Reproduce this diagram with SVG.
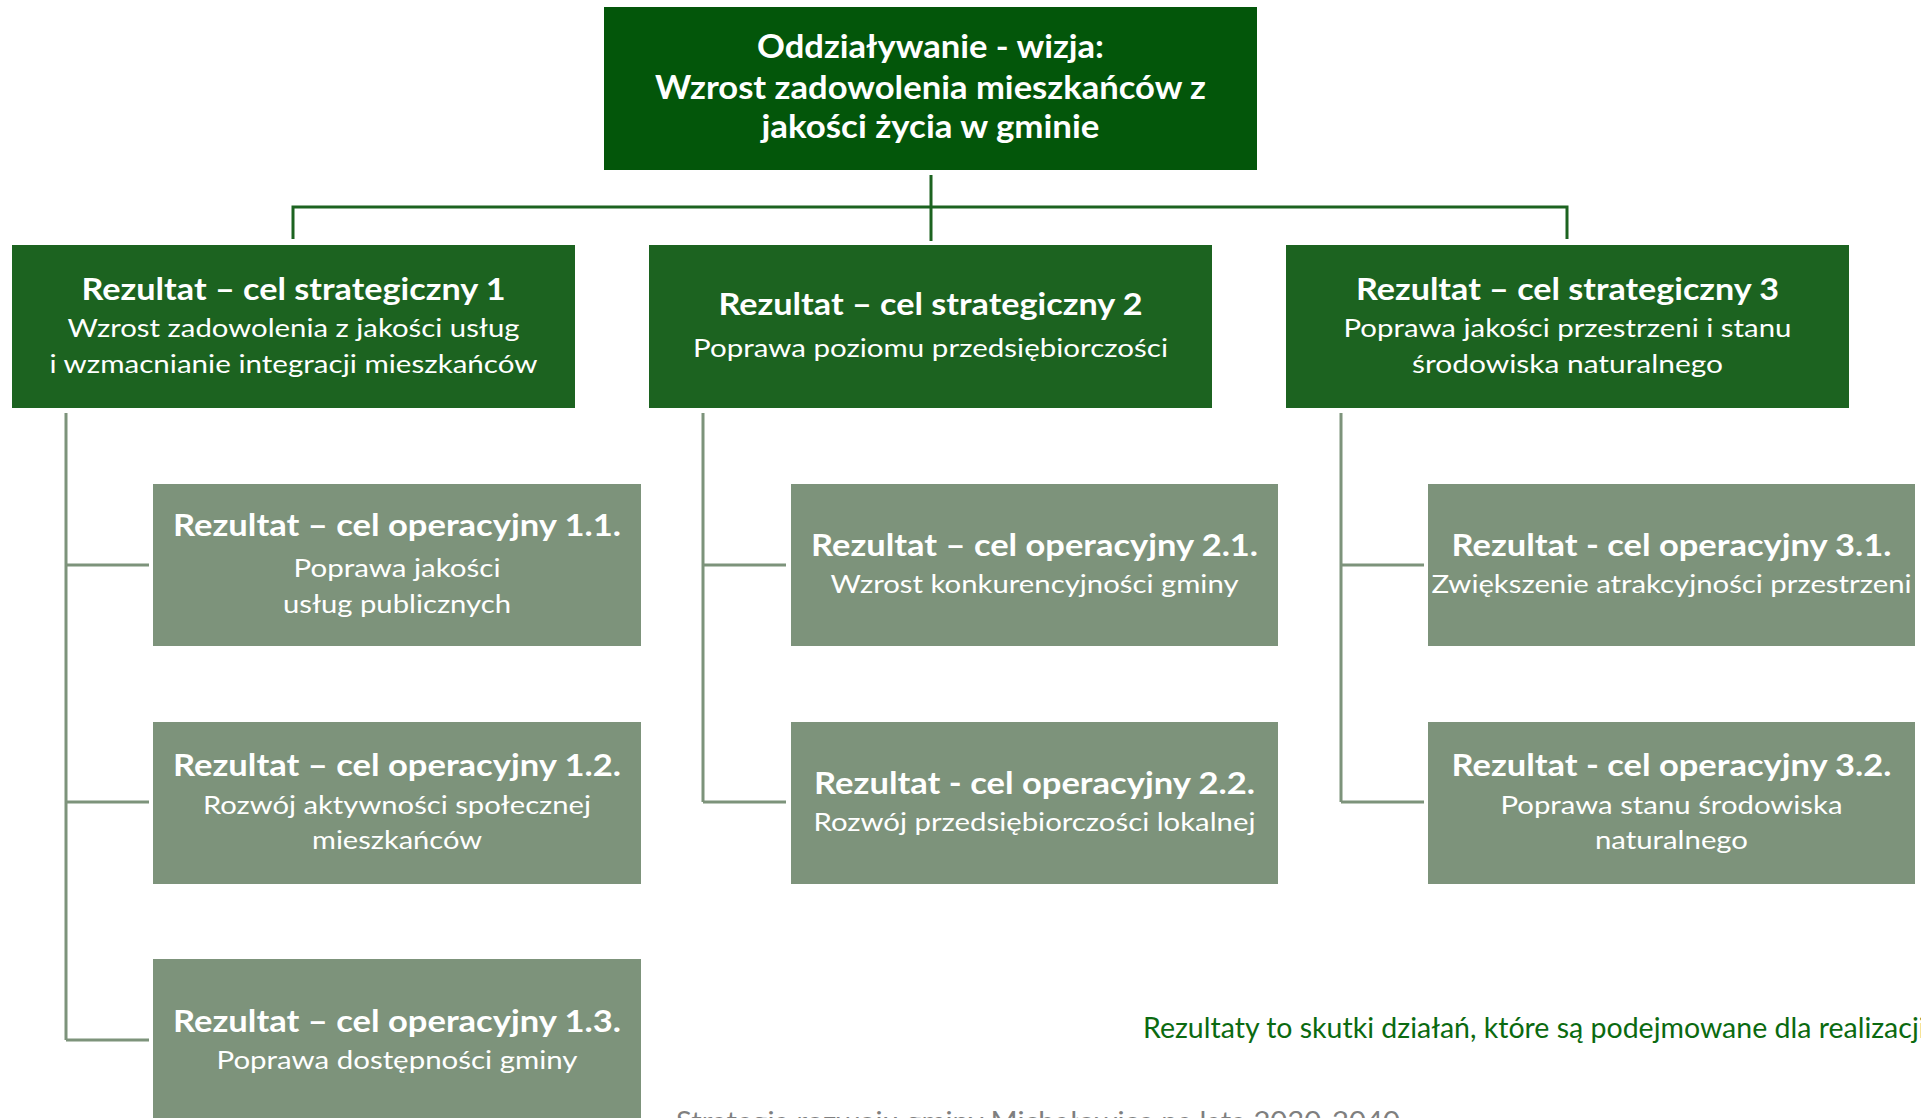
<svg xmlns="http://www.w3.org/2000/svg" width="1921" height="1118" viewBox="0 0 1921 1118">
<style>
text{font-family:Lato,"Open Sans","Liberation Sans",sans-serif;fill:#fff;text-anchor:middle}
.b{font-weight:700}
.t0{font-size:33px}
.t1{font-size:30px}
.s{font-size:25px}
.top{fill:#03560A}
.str{fill:#1C6320}
.op{fill:#7D937B}
.c1{stroke:#1C6320;stroke-width:3;fill:none}
.c2{stroke:#7D937B;stroke-width:3;fill:none}
.note{fill:#0B6A10;text-anchor:start;font-size:28.5px}
.src{fill:#7f7f7f;text-anchor:start;font-size:27px}
</style>
<g id="connectors">
<path class="c1" d="M931 175V241M293 239V207H1567V239"/>
<path class="c2" d="M66 413V1040M66 565H149M66 802H149M66 1040H149"/>
<path class="c2" d="M703 413V802M703 565H786M703 802H786"/>
<path class="c2" d="M1341 413V802M1341 565H1424M1341 802H1424"/>
</g>
<g id="vision">
<rect class="top" x="604" y="7" width="653" height="163"/>
<text class="b t0" x="930.5" y="58" textLength="347" lengthAdjust="spacingAndGlyphs">Oddziaływanie - wizja:</text>
<text class="b t0" x="930.5" y="99" textLength="551" lengthAdjust="spacingAndGlyphs">Wzrost zadowolenia mieszkańców z</text>
<text class="b t0" x="930.5" y="138" textLength="338" lengthAdjust="spacingAndGlyphs">jakości życia w gminie</text>
</g>
<g id="strat1">
<rect class="str" x="12" y="245" width="563" height="163"/>
<text class="b t1" x="293.5" y="300" textLength="424" lengthAdjust="spacingAndGlyphs">Rezultat – cel strategiczny 1</text>
<text class="s" x="293.5" y="337" textLength="452" lengthAdjust="spacingAndGlyphs">Wzrost zadowolenia z jakości usług</text>
<text class="s" x="293.5" y="373" textLength="488" lengthAdjust="spacingAndGlyphs">i wzmacnianie integracji mieszkańców</text>
</g>
<g id="strat2">
<rect class="str" x="649" y="245" width="563" height="163"/>
<text class="b t1" x="930.5" y="315" textLength="424" lengthAdjust="spacingAndGlyphs">Rezultat – cel strategiczny 2</text>
<text class="s" x="930.5" y="357" textLength="475" lengthAdjust="spacingAndGlyphs">Poprawa poziomu przedsiębiorczości</text>
</g>
<g id="strat3">
<rect class="str" x="1286" y="245" width="563" height="163"/>
<text class="b t1" x="1567.5" y="300" textLength="423" lengthAdjust="spacingAndGlyphs">Rezultat – cel strategiczny 3</text>
<text class="s" x="1567.5" y="337" textLength="448" lengthAdjust="spacingAndGlyphs">Poprawa jakości przestrzeni i stanu</text>
<text class="s" x="1567.5" y="373" textLength="311" lengthAdjust="spacingAndGlyphs">środowiska naturalnego</text>
</g>
<g id="op11">
<rect class="op" x="153" y="484" width="488" height="162"/>
<text class="b t1" x="397" y="536" textLength="448" lengthAdjust="spacingAndGlyphs">Rezultat – cel operacyjny 1.1.</text>
<text class="s" x="397" y="577" textLength="207" lengthAdjust="spacingAndGlyphs">Poprawa jakości</text>
<text class="s" x="397" y="613" textLength="228" lengthAdjust="spacingAndGlyphs">usług publicznych</text>
</g>
<g id="op12">
<rect class="op" x="153" y="722" width="488" height="162"/>
<text class="b t1" x="397" y="776" textLength="448" lengthAdjust="spacingAndGlyphs">Rezultat – cel operacyjny 1.2.</text>
<text class="s" x="397" y="814" textLength="388" lengthAdjust="spacingAndGlyphs">Rozwój aktywności społecznej</text>
<text class="s" x="397" y="849" textLength="170" lengthAdjust="spacingAndGlyphs">mieszkańców</text>
</g>
<g id="op13">
<rect class="op" x="153" y="959" width="488" height="170"/>
<text class="b t1" x="397" y="1032" textLength="448" lengthAdjust="spacingAndGlyphs">Rezultat – cel operacyjny 1.3.</text>
<text class="s" x="397" y="1069" textLength="361" lengthAdjust="spacingAndGlyphs">Poprawa dostępności gminy</text>
</g>
<g id="op21">
<rect class="op" x="791" y="484" width="487" height="162"/>
<text class="b t1" x="1034.5" y="556" textLength="447" lengthAdjust="spacingAndGlyphs">Rezultat – cel operacyjny 2.1.</text>
<text class="s" x="1034.5" y="593" textLength="408" lengthAdjust="spacingAndGlyphs">Wzrost konkurencyjności gminy</text>
</g>
<g id="op22">
<rect class="op" x="791" y="722" width="487" height="162"/>
<text class="b t1" x="1034.5" y="794" textLength="441" lengthAdjust="spacingAndGlyphs">Rezultat - cel operacyjny 2.2.</text>
<text class="s" x="1034.5" y="831" textLength="442" lengthAdjust="spacingAndGlyphs">Rozwój przedsiębiorczości lokalnej</text>
</g>
<g id="op31">
<rect class="op" x="1428" y="484" width="487" height="162"/>
<text class="b t1" x="1671.5" y="556" textLength="440" lengthAdjust="spacingAndGlyphs">Rezultat - cel operacyjny 3.1.</text>
<text class="s" x="1671.5" y="593" textLength="480" lengthAdjust="spacingAndGlyphs">Zwiększenie atrakcyjności przestrzeni</text>
</g>
<g id="op32">
<rect class="op" x="1428" y="722" width="487" height="162"/>
<text class="b t1" x="1671.5" y="776" textLength="440" lengthAdjust="spacingAndGlyphs">Rezultat - cel operacyjny 3.2.</text>
<text class="s" x="1671.5" y="814" textLength="342" lengthAdjust="spacingAndGlyphs">Poprawa stanu środowiska</text>
<text class="s" x="1671.5" y="849" textLength="153" lengthAdjust="spacingAndGlyphs">naturalnego</text>
</g>
<text class="note" x="1143" y="1038">Rezultaty to skutki działań, które są podejmowane dla realizacji</text>
<text class="src" x="676" y="1131" textLength="724" lengthAdjust="spacingAndGlyphs">Strategia rozwoju gminy Michałowice na lata 2030-2040</text>
</svg>
